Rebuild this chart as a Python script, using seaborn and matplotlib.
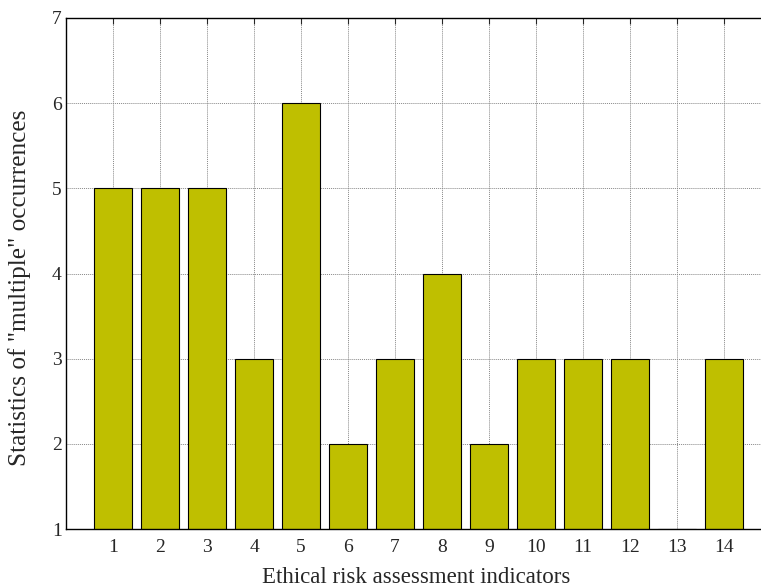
import matplotlib
matplotlib.use("Agg")
import matplotlib.pyplot as plt
import seaborn as sns
import pandas as pd

indicators = list(range(1, 15))
counts = [5, 5, 5, 3, 6, 2, 3, 4, 2, 3, 3, 3, 1, 3]
yticks = [1, 2, 3, 4, 5, 6, 7]

sns.set_style("white")
plt.rcParams['font.family'] = ['Liberation Serif', 'DejaVu Serif']

df = pd.DataFrame({"indicator": indicators, "count": counts})

fig = plt.figure(figsize=(7.61, 5.88), dpi=100)
ax = fig.add_axes([66/761, 59/588, 705/761, 511/588])
sns.barplot(data=df, x="indicator", y="count", color="#BFBF00", saturation=1,
            width=0.8, edgecolor="black", linewidth=0.8, ax=ax, zorder=2)
ax.set_xlim(-1, 14)
ax.set_ylim(1, 7)
ax.set_yticks(yticks)
ax.set_xticks(range(len(indicators)))
ax.set_xticklabels([str(i) for i in indicators], fontsize=14)
ax.set_yticklabels([str(v) for v in yticks], fontsize=14)
ax.grid(True, linestyle=(0, (1, 1)), color="#888888", linewidth=0.7, zorder=0)
ax.set_axisbelow(True)
ax.tick_params(direction="in", top=True, right=True, length=4, width=0.8)
ax.tick_params(axis="x", pad=7)
ax.tick_params(axis="y", pad=3)
for s in ax.spines.values():
    s.set_visible(True)
    s.set_color("black")
    s.set_linewidth(1.0)
ax.set_xlabel("Ethical risk assessment indicators", fontsize=16.5)
ax.xaxis.set_label_coords(0.497, -0.075)
ax.set_ylabel('Statistics of "multiple" occurrences', fontsize=18.2)
ax.yaxis.set_label_coords(-0.05, 0.4716)
fig.savefig("out.png", dpi=100)
